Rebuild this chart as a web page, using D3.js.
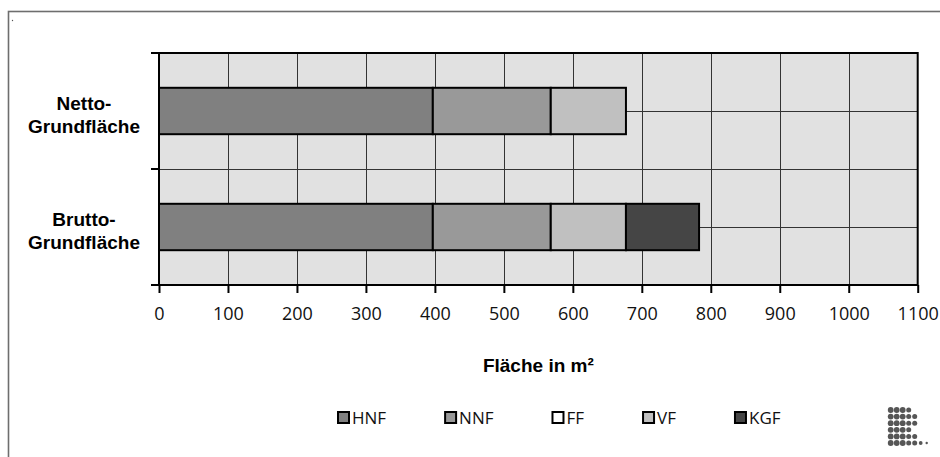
<!DOCTYPE html>
<html>
<head>
<meta charset="utf-8">
<script src="https://cdn.jsdelivr.net/npm/d3@7"></script>
<style>
  body { margin: 0; background: #fff; }
  svg { display: block; }
</style>
</head>
<body>
<svg id="chart" width="940" height="457"></svg>
<script>
// ---- data -------------------------------------------------------------
const categories = [["Netto-", "Grundfläche"], ["Brutto-", "Grundfläche"]];
const seriesNames = ["HNF", "NNF", "FF", "VF", "KGF"];
const hnf = [397, 397];
const nnf = [171, 171];
const ff  = [0, 0];
const vf  = [109, 109];
const kgf = [0, 106];
const xTicks = [0, 100, 200, 300, 400, 500, 600, 700, 800, 900, 1000, 1100];
const xTitle = "Fläche in m²";

// ---- styling ----------------------------------------------------------
const colors = {HNF: "#808080", NNF: "#999999", FF: "#ffffff", VF: "#c0c0c0", KGF: "#454545"};
const tickFont = "'Open Sans', 'DejaVu Sans', sans-serif";
const boldFont = "'Liberation Sans', Arial, sans-serif";

const svg = d3.select("#chart");
const plot = {left: 159, top: 53, right: 917.7, bottom: 285};

// outer chart frame (only top and left edges fall inside the canvas)
svg.append("rect")
  .attr("x", 8.5).attr("y", 11.5).attr("width", 960).attr("height", 480)
  .attr("fill", "none").attr("stroke", "#6e6e6e").attr("stroke-width", 1.6);

svg.append("circle").attr("cx", 12.5).attr("cy", 20.5).attr("r", 0.7).attr("fill", "#555");

// ---- scales -----------------------------------------------------------
const rows = categories.map((c, i) => ({
  idx: i, HNF: hnf[i], NNF: nnf[i], FF: ff[i], VF: vf[i], KGF: kgf[i]
}));
const stacked = d3.stack().keys(seriesNames)(rows);

const x = d3.scaleLinear().domain([0, 1100]).range([plot.left, plot.right]);
const y = d3.scaleBand().domain(d3.range(categories.length))
  .range([plot.top, plot.bottom]).paddingInner(0.6).paddingOuter(0.3);

// ---- plot background and grid ----------------------------------------
svg.append("rect")
  .attr("x", plot.left).attr("y", plot.top)
  .attr("width", plot.right - plot.left).attr("height", plot.bottom - plot.top)
  .attr("fill", "#e1e1e1");

const grid = svg.append("g").attr("stroke", "#333").attr("stroke-width", 1);
grid.selectAll("line.v")
  .data(xTicks.filter(t => t > 0 && t < 1100))
  .join("line")
  .attr("x1", d => Math.round(x(d)) + 0.5).attr("x2", d => Math.round(x(d)) + 0.5)
  .attr("y1", plot.top).attr("y2", plot.bottom);

// category boundaries and band centres
const step = y.step();
const boundaries = [plot.top];
categories.forEach((c, i) => { if (i > 0) boundaries.push(y(i) - step * y.paddingInner() / 2); });
boundaries.push(plot.bottom);
const centres = categories.map((c, i) => y(i) + y.bandwidth() / 2);

grid.selectAll("line.h")
  .data([...centres, ...boundaries.slice(1, -1)])
  .join("line")
  .attr("x1", plot.left).attr("x2", plot.right)
  .attr("y1", d => Math.round(d) + 0.5).attr("y2", d => Math.round(d) + 0.5);

// ---- bars -------------------------------------------------------------
svg.append("g").selectAll("g")
  .data(stacked)
  .join("g")
  .attr("fill", d => colors[d.key])
  .selectAll("rect")
  .data(d => d.filter(p => p[1] - p[0] > 0))
  .join("rect")
  .attr("x", d => x(d[0]))
  .attr("width", d => x(d[1]) - x(d[0]))
  .attr("y", d => y(d.data.idx))
  .attr("height", y.bandwidth())
  .attr("stroke", "#000")
  .attr("stroke-width", 2);

// ---- plot frame -------------------------------------------------------
svg.append("rect")
  .attr("x", plot.left).attr("y", plot.top)
  .attr("width", plot.right - plot.left).attr("height", plot.bottom - plot.top)
  .attr("fill", "none").attr("stroke", "#000").attr("stroke-width", 2);

// ---- x axis -----------------------------------------------------------
const xAxis = svg.append("g")
  .attr("transform", `translate(0,${plot.bottom})`)
  .call(d3.axisBottom(x).tickValues(xTicks).tickFormat(d3.format("d"))
    .tickSize(8).tickSizeOuter(0));
xAxis.select(".domain").remove();
xAxis.selectAll(".tick line").attr("stroke", "#000").attr("stroke-width", 2);
xAxis.selectAll(".tick text")
  .attr("y", 35).attr("dy", null)
  .attr("fill", "#111")
  .style("font-family", tickFont).style("font-size", "18px");

svg.append("text")
  .attr("x", (plot.left + plot.right) / 2).attr("y", 372)
  .attr("text-anchor", "middle")
  .style("font-family", boldFont).style("font-size", "19px").style("font-weight", "bold")
  .text(xTitle);

// ---- y axis (ticks at category boundaries) ----------------------------
svg.append("g").selectAll("line")
  .data(boundaries)
  .join("line")
  .attr("x1", plot.left - 8).attr("x2", plot.left)
  .attr("y1", d => d).attr("y2", d => d)
  .attr("stroke", "#000").attr("stroke-width", 2);

const catLabels = svg.append("g")
  .style("font-family", boldFont).style("font-size", "19px").style("font-weight", "bold")
  .attr("text-anchor", "middle");
categories.forEach((lines, i) => {
  const t = catLabels.append("text");
  lines.forEach((ln, j) => {
    t.append("tspan").attr("x", 84).attr("y", centres[i] - 1 + j * 23).text(ln);
  });
});

// ---- legend -----------------------------------------------------------
const legend = svg.append("g").attr("transform", "translate(337,0)");
let lx = 0;
seriesNames.forEach(name => {
  const g = legend.append("g").attr("transform", `translate(${lx},0)`);
  g.append("rect")
    .attr("x", 1).attr("y", 412).attr("width", 11).attr("height", 11)
    .attr("fill", colors[name]).attr("stroke", "#000").attr("stroke-width", 2);
  const t = g.append("text")
    .attr("x", 15).attr("y", 423.5)
    .attr("fill", "#111")
    .style("font-family", tickFont).style("font-size", "17px")
    .text(name);
  lx += 15 + t.node().getComputedTextLength() + 58;
});

// ---- logo mark --------------------------------------------------------
const logoRows = ["LLLM", "LLLMM", "LLLMM", "LLLM", "LLLMM", "LLLMMST"];
const dotR = {L: 2.9, M: 2.5, S: 1.9, T: 1.2};
const logo = svg.append("g").attr("fill", "#565656");
logoRows.forEach((row, r) => {
  row.split("").forEach((s, c) => {
    logo.append("circle")
      .attr("cx", 890.7 + c * 6).attr("cy", 410 + r * 6.6).attr("r", dotR[s]);
  });
});
</script>
</body>
</html>
